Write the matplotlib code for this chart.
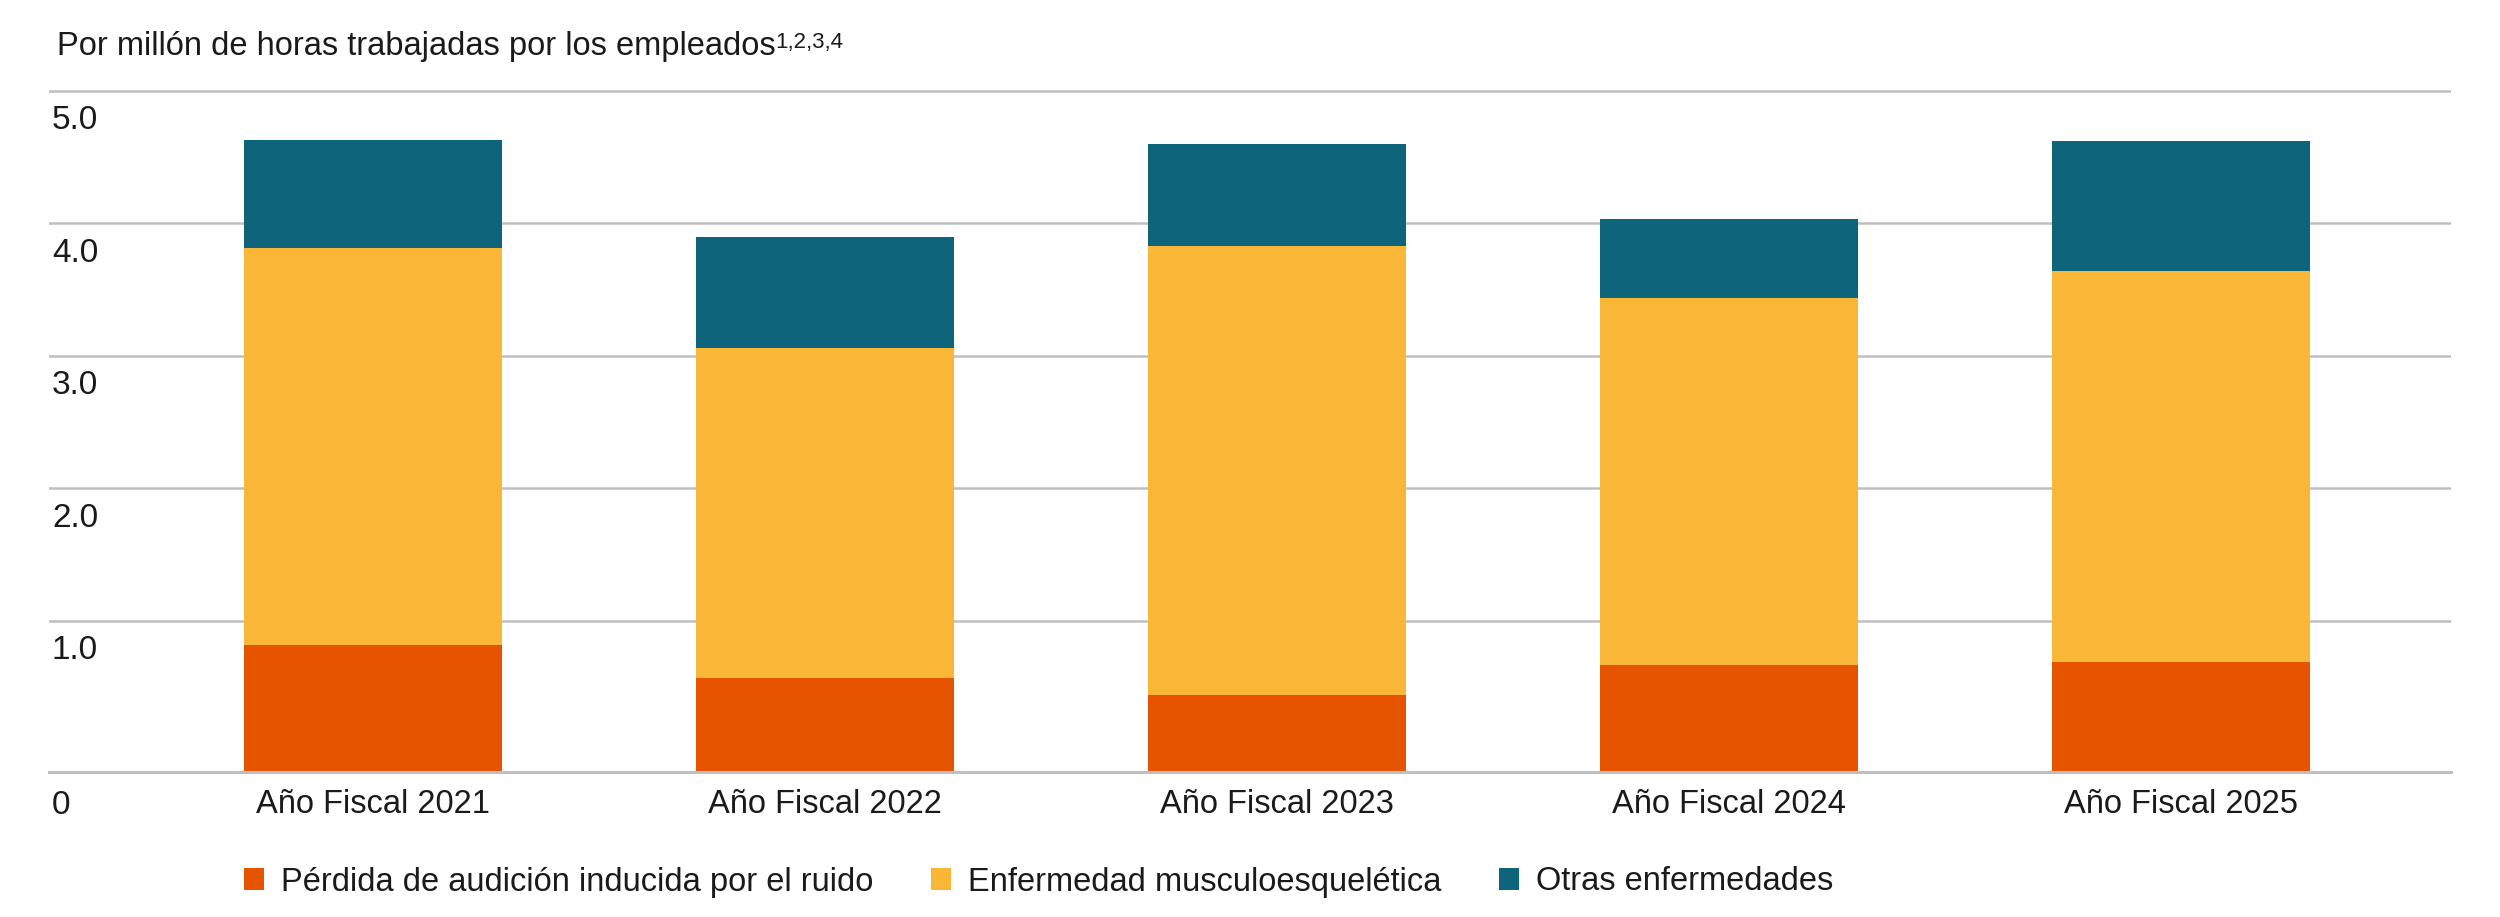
import matplotlib
matplotlib.use("Agg")
import matplotlib.pyplot as plt
import matplotlib.transforms as mtransforms
from matplotlib.patches import Patch
import numpy as np

plt.rcParams["font.family"] = ["Liberation Sans", "DejaVu Sans"]

# Data (per million hours worked)
years = ["Año Fiscal 2021", "Año Fiscal 2022", "Año Fiscal 2023",
         "Año Fiscal 2024", "Año Fiscal 2025"]
ruido = [0.82, 0.57, 0.44, 0.67, 0.69]
musculo = [2.99, 2.49, 3.39, 2.77, 2.95]
otras = [0.82, 0.84, 0.77, 0.59, 0.98]

series_labels = ["Pérdida de audición inducida por el ruido",
                 "Enfermedad musculoesquelética",
                 "Otras enfermedades"]
ytick_values = [1, 2, 3, 4, 5]
ytick_labels = ["1.0", "2.0", "3.0", "4.0", "5.0"]

# Styles
c_ruido = "#E65400"
c_musculo = "#F9B637"
c_otras = "#0E647B"
c_grid = "#BFBFBF"
c_text = "#1A1A1A"
fs = 23.5
y_floor = -0.14   # the drawn baseline sits a little below the 1.0 step

def main():
    fig = plt.figure(figsize=(25, 9.17), dpi=100)
    ax = fig.add_axes([49 / 2500, 145 / 917, 2402 / 2500, 694.5 / 917])

    x = np.arange(len(years))
    ruido_a = np.array(ruido)
    musculo_a = np.array(musculo)
    otras_a = np.array(otras)
    w = 0.571

    ax.bar(x, ruido_a - y_floor, bottom=y_floor, width=w, color=c_ruido, zorder=3)
    ax.bar(x, musculo_a, bottom=ruido_a, width=w, color=c_musculo, zorder=3)
    ax.bar(x, otras_a, bottom=ruido_a + musculo_a, width=w, color=c_otras, zorder=3)

    ax.set_xlim(-0.717, 4.597)
    ax.set_ylim(y_floor, 5.1)

    # gridlines
    for v in ytick_values:
        ax.axhline(v, color=c_grid, linewidth=1.8, zorder=1)

    for s in ["top", "right", "left"]:
        ax.spines[s].set_visible(False)
    ax.spines["bottom"].set_color(c_grid)
    ax.spines["bottom"].set_linewidth(2.2)
    ax.spines["bottom"].set_zorder(4)

    ax.set_yticks([])
    ax.set_xticks(x)
    ax.set_xticklabels(years, fontsize=fs, color=c_text)
    ax.tick_params(axis="x", length=0, pad=12)

    # y labels sit just below their gridlines
    trans = mtransforms.blended_transform_factory(ax.transAxes, ax.transData)
    lab_trans = mtransforms.offset_copy(trans, fig=fig, x=3, y=-30, units="dots")
    for v, lab in zip(ytick_values, ytick_labels):
        ax.text(0, v, lab, transform=lab_trans, ha="left", va="center",
                fontsize=fs + 0.5, color=c_text)
    zero_trans = mtransforms.offset_copy(trans, fig=fig, x=3, y=-33, units="dots")
    ax.text(0, y_floor, "0", transform=zero_trans, ha="left", va="center",
            fontsize=fs + 0.5, color=c_text)

    # title with superscript notes
    title = fig.text(57 / 2500, 1 - 46 / 917, "Por millón de horas trabajadas por los empleados",
                     ha="left", va="center", fontsize=fs, color=c_text)
    ax.annotate("1,2,3,4", xy=(1.0, 0.95), xycoords=title, ha="left", va="top",
                fontsize=16, color=c_text, annotation_clip=False)

    # legend
    handles = [Patch(facecolor=c_ruido), Patch(facecolor=c_musculo), Patch(facecolor=c_otras)]
    fig.legend(handles, series_labels, loc="center left",
               bbox_to_anchor=(244 / 2500, 1 - 882 / 917), ncol=3, frameon=False,
               fontsize=fs, handlelength=0.62, handleheight=0.62,
               handletextpad=0.52, columnspacing=1.76, borderpad=0,
               borderaxespad=0, labelcolor=c_text)

    plt.savefig("out.png", dpi=100)


if __name__ == "__main__":
    main()
